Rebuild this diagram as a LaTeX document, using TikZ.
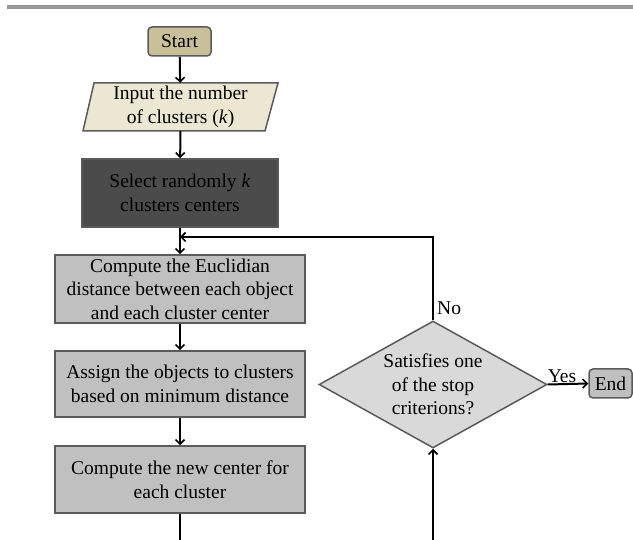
\documentclass[tikz,border=0pt]{standalone}
\usepackage{fontspec}
\setmainfont{Liberation Serif}
\usetikzlibrary{arrows.meta,shapes.geometric}
\definecolor{barc}{HTML}{999999}
\definecolor{startc}{HTML}{C9C09A}
\definecolor{inpc}{HTML}{EBE7D3}
\definecolor{selc}{HTML}{4B4B4B}
\definecolor{boxc}{HTML}{C0C0C0}
\definecolor{diac}{HTML}{D9D9D9}
\definecolor{endc}{HTML}{BFBFBF}
\definecolor{bord}{HTML}{5A5A5A}
\begin{document}
\begin{tikzpicture}[x=1pt,y=-1pt,
  every node/.style={font=\fontsize{19.5}{23.5}\selectfont, inner sep=0pt, align=center},
  framed/.style={draw=bord, line width=1.5pt},
  startbox/.style={framed, fill=startc, rounded corners=4pt, minimum width=63pt, minimum height=29pt},
  procbox/.style={framed, fill=boxc, minimum width=250pt},
  selbox/.style={framed, fill=selc, text=black, minimum width=196pt, minimum height=68pt},
  decbox/.style={framed, fill=diac, shape=diamond, aspect=1.8, minimum width=228pt, minimum height=127pt},
  endbox/.style={framed, fill=endc, rounded corners=4pt, minimum width=43pt, minimum height=29pt},
  arr/.style={draw=black, line width=2pt, -{Straight Barb[length=4.5pt,width=9pt,line width=1.6pt]}},
  plain/.style={draw=black, line width=2pt}
]
\useasboundingbox (0,0) rectangle (633,540);
\fill[barc] (7,5) rectangle (633,9.5);

\node[startbox] (start) at (179.5,41.5) {Start};

\coordinate (inpc) at (180.5,107);
\filldraw[fill=inpc, draw=bord, line width=1.5pt]
  ([xshift=-97.5pt,yshift=-24pt]inpc) -- ([xshift=84.5pt,yshift=-24pt]inpc) -- ([xshift=97.5pt,yshift=24pt]inpc) -- ([xshift=-86.5pt,yshift=24pt]inpc) -- cycle;
\node[minimum width=172pt, minimum height=48pt] (inp) at (inpc) {Input the number\\of clusters (\textit{k})};

\node[selbox] (sel) at (180,193) {Select randomly \textit{k}\\clusters centers};
\node[procbox, minimum height=68pt] (c1) at (180,289) {Compute the Euclidian\\distance between each object\\and each cluster center};
\node[procbox, minimum height=66pt] (asg) at (180,384) {Assign the objects to clusters\\based on minimum distance};
\node[procbox, minimum height=67pt] (cnew) at (180,479.5) {Compute the new center for\\each cluster};

\node[decbox] (dia) at (433,384.5) {Satisfies one\\of the stop\\criterions?};
\node[endbox] (fin) at (610.5,383.5) {End};

\coordinate (bot1) at (180,540);
\coordinate (bot2) at (433,540);
\coordinate (loopy) at (180,237);

\draw[arr] (start) -- (inp);
\draw[arr] (inp) -- (sel);
\draw[arr] (sel) -- (c1);
\draw[arr] (c1) -- (asg);
\draw[arr] (asg) -- (cnew);
\draw[plain] (cnew.south) -- (bot1);
\draw[arr] (bot2) -- (dia.south);
\draw[arr] (dia.north) -- (dia.north |- loopy) -- (loopy);
\node[anchor=south west] (no) at ([xshift=4pt,yshift=5pt]dia.north) {No};
\draw[arr] (dia.east) -- node[above, xshift=-6pt, yshift=0pt] (yes) {Yes} (fin.west);
\end{tikzpicture}
\end{document}
